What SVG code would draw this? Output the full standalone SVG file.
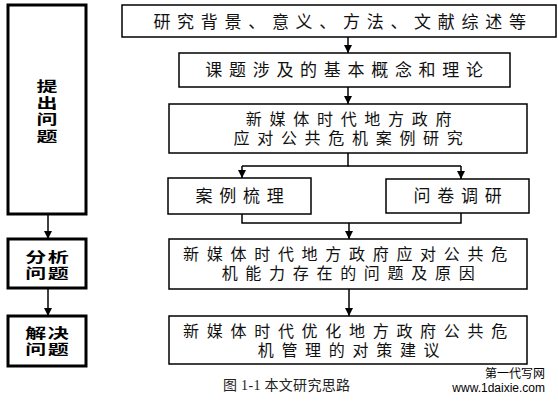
<svg xmlns="http://www.w3.org/2000/svg" width="558" height="401" viewBox="0 0 558 401">
<style>
.box{fill:#fff;stroke:#000;stroke-width:1.5}
.lbox{fill:#fff;stroke:#000;stroke-width:3}
.t{font-family:"Liberation Sans","Noto Sans CJK SC",sans-serif;font-size:16px;fill:#111;text-anchor:middle;letter-spacing:7.7px}
.t1{font-family:"Noto Sans CJK SC","Noto Sans",sans-serif;font-size:17px;fill:#111;text-anchor:middle;letter-spacing:6.7px}
.lt{font-family:"Liberation Sans","Noto Sans CJK SC",sans-serif;font-size:14px;font-weight:bold;fill:#000;text-anchor:middle}
.c{fill:none;stroke:#000;stroke-width:1.5}
.cap{font-family:"Liberation Serif","Noto Sans CJK SC",serif;font-size:14px;fill:#222}
.wm{font-family:"Liberation Sans","Noto Sans CJK SC",sans-serif;font-size:12px;fill:#000;text-anchor:end}
</style>
<defs>
<marker id="ah" markerWidth="8" markerHeight="8" refX="8" refY="4" orient="auto" markerUnits="userSpaceOnUse">
<path d="M0,0 L8,4 L0,8 z" fill="#000"/>
</marker>
</defs>
<rect width="558" height="401" fill="#fff"/>
<g id="connectors">
<line class="c" x1="348" y1="37" x2="348" y2="53" marker-end="url(#ah)"/>
<line class="c" x1="348" y1="87" x2="348" y2="104" marker-end="url(#ah)"/>
<polyline class="c" points="348,153 348,166 242,166"/>
<line class="c" x1="348" y1="166" x2="461" y2="166"/>
<line class="c" x1="242" y1="166" x2="242" y2="178" marker-end="url(#ah)"/>
<line class="c" x1="461" y1="166" x2="461" y2="179" marker-end="url(#ah)"/>
<polyline class="c" points="242,214 242,223 461,223 461,213"/>
<line class="c" x1="349" y1="223" x2="349" y2="239" marker-end="url(#ah)"/>
<line class="c" x1="349" y1="289" x2="349" y2="316" marker-end="url(#ah)"/>
<line class="c" x1="48" y1="214" x2="48" y2="239" marker-end="url(#ah)"/>
<line class="c" x1="48" y1="288" x2="48" y2="316" marker-end="url(#ah)"/>
</g>
<g id="left1">
<rect class="lbox" x="8" y="5" width="78" height="209"/>
<text class="lt" transform="translate(47,0) scale(1.5,1)"><tspan x="0" y="91">提</tspan><tspan x="0" y="108">出</tspan><tspan x="0" y="124.5">问</tspan><tspan x="0" y="141">题</tspan></text>
</g>
<g id="left2">
<rect class="lbox" x="8" y="239" width="78" height="49"/>
<text class="lt" transform="translate(47,0) scale(1.5,1)" letter-spacing="1"><tspan x="0.5" y="262">分析</tspan><tspan x="0.5" y="278">问题</tspan></text>
</g>
<g id="left3">
<rect class="lbox" x="8" y="316" width="78" height="50"/>
<text class="lt" transform="translate(47,0) scale(1.5,1)" letter-spacing="1"><tspan x="0.5" y="338.5">解决</tspan><tspan x="0.5" y="354.5">问题</tspan></text>
</g>
<g id="nodeA">
<rect class="box" x="122" y="5" width="434" height="32"/>
<text class="t1" x="343" y="28">研究背景、意义、方法、文献综述等</text>
</g>
<g id="nodeB">
<rect class="box" x="179" y="53" width="331" height="34"/>
<text class="t1" x="347.5" y="76">课题涉及的基本概念和理论</text>
</g>
<g id="nodeC">
<rect class="box" x="169" y="104" width="358" height="49"/>
<text class="t"><tspan x="352.5" y="125">新媒体时代地方政府</tspan><tspan x="352" y="144">应对公共危机案例研究</tspan></text>
</g>
<g id="nodeD">
<rect class="box" x="168" y="178" width="143" height="36"/>
<text class="t1" x="243" y="202">案例梳理</text>
</g>
<g id="nodeE">
<rect class="box" x="386" y="179" width="143" height="34"/>
<text class="t1" x="461" y="202">问卷调研</text>
</g>
<g id="nodeF">
<rect class="box" x="169" y="239" width="358" height="50"/>
<text class="t"><tspan x="349" y="260">新媒体时代地方政府应对公共危</tspan><tspan x="352" y="279">机能力存在的问题及原因</tspan></text>
</g>
<g id="nodeG">
<rect class="box" x="169" y="316" width="358" height="48"/>
<text class="t"><tspan x="349" y="337">新媒体时代优化地方政府公共危</tspan><tspan x="352.5" y="356">机管理的对策建议</tspan></text>
</g>
<g id="caption">
<text class="cap" x="223" y="390" textLength="127" lengthAdjust="spacing">图 1-1 本文研究思路</text>
</g>
<g id="watermark">
<text class="wm"><tspan x="545" y="378">第一代写网</tspan><tspan x="545" y="391.5">www.1daixie.com</tspan></text>
</g>
</svg>
